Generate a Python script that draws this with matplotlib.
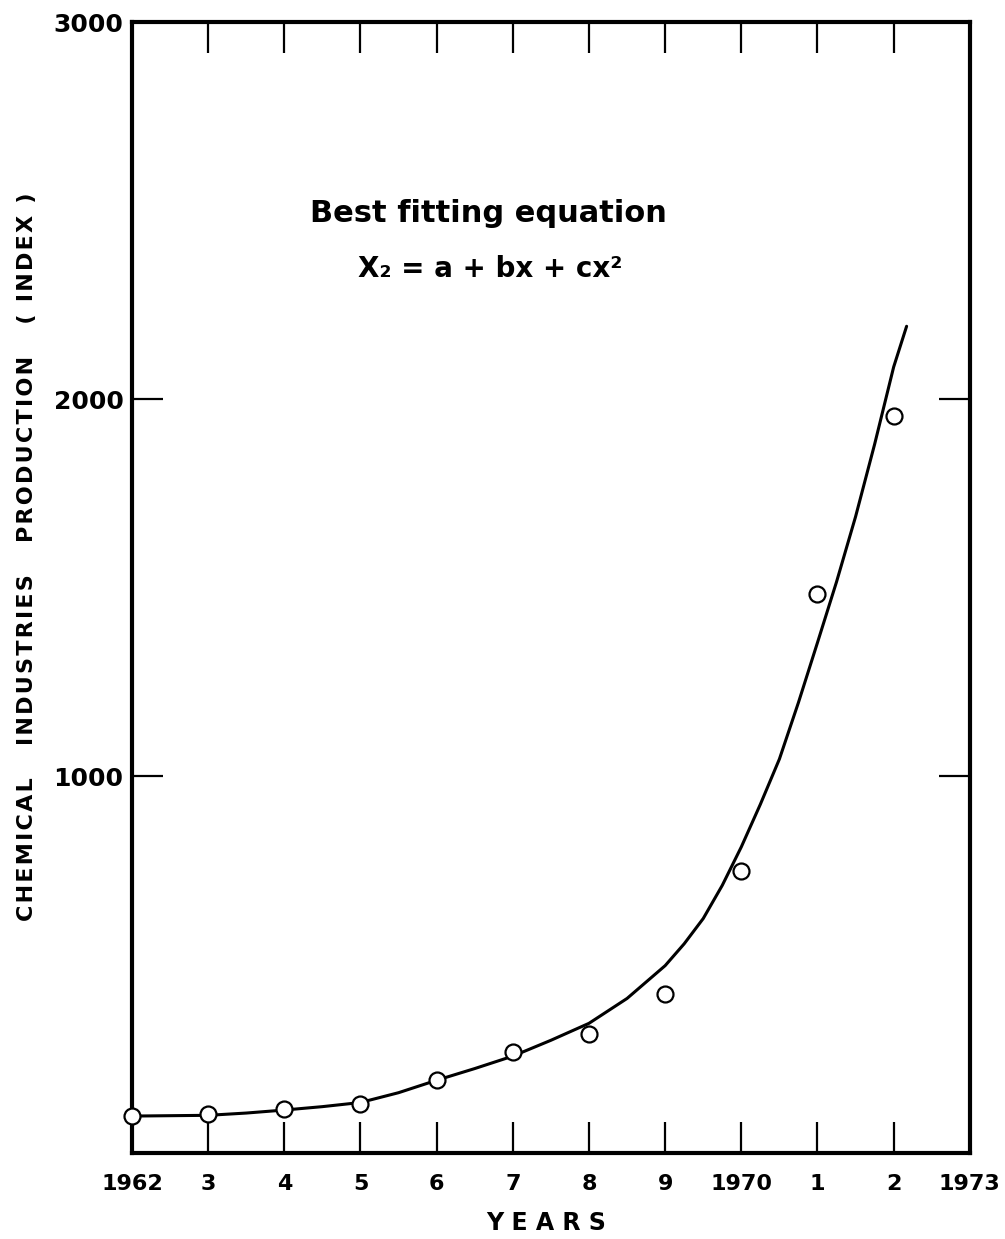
import matplotlib.pyplot as plt

# observed index values (open circles)
YEARS = [1962, 1963, 1964, 1965, 1966, 1967, 1968, 1969, 1970, 1971, 1972]
PRODUCTION = [98, 103, 116, 130, 193, 267, 317, 423, 749, 1484, 1955]

# fitted curve
CURVE_X = [1962, 1962.5, 1963, 1963.5, 1964, 1964.5, 1965, 1965.5, 1966, 1966.5,
           1967, 1967.5, 1968, 1968.5, 1969, 1969.25, 1969.5, 1969.75, 1970,
           1970.25, 1970.5, 1970.75, 1971, 1971.25, 1971.5, 1971.75, 1972, 1972.17]
CURVE_Y = [98, 99, 100, 106, 114, 123, 134, 160, 193, 224,
           257, 299, 344, 410, 497, 555, 622, 710, 812,
           925, 1045, 1195, 1354, 1515, 1688, 1880, 2085, 2193]

XTICKS = list(range(1962, 1974))
XTICK_LABELS = ['1962', '3', '4', '5', '6', '7', '8', '9', '1970', '1', '2', '1973']
YTICKS = [1000, 2000, 3000]

Y_TITLE = 'CHEMICAL   INDUSTRIES   PRODUCTION   ( INDEX )'


def spaced(text):
    # loose letter spacing as on the original drawing
    return '\u200a'.join(text)


plt.rcParams['font.family'] = ['DejaVu Sans']
plt.rcParams['font.weight'] = 'bold'

fig = plt.figure(figsize=(10.05, 12.39), dpi=100)
ax = fig.add_axes([0.1313, 0.0694, 0.8337, 0.9128])

ax.plot(CURVE_X, CURVE_Y, color='black', linewidth=2.2,
        solid_capstyle='round', solid_joinstyle='round')
ax.plot(YEARS, PRODUCTION, linestyle='none', marker='o', markersize=11.5,
        markerfacecolor='white', markeredgecolor='black', markeredgewidth=1.6,
        clip_on=False, zorder=3)

ax.set_xlim(1962, 1973)
ax.set_ylim(0, 3000)

ax.set_xticks(XTICKS)
ax.set_xticklabels(XTICK_LABELS, fontsize=16, fontweight='bold')
ax.set_yticks(YTICKS)
ax.set_yticklabels([str(v) for v in YTICKS], fontsize=18, fontweight='bold')

ax.tick_params(axis='both', direction='in', length=22, width=1.6,
               top=True, right=True)
ax.tick_params(axis='x', pad=15)
ax.tick_params(axis='y', pad=6)

for spine in ax.spines.values():
    spine.set_linewidth(3)

ax.set_xlabel('Y E A R S', fontsize=17, fontweight='bold')
ax.xaxis.set_label_coords(0.494, -0.051)
ax.set_ylabel(spaced(Y_TITLE), fontsize=16, fontweight='bold')
ax.yaxis.set_label_coords(-0.113, 0.527)

ax.text(0.425, 0.831, 'Best fitting equation', transform=ax.transAxes,
        ha='center', va='center', fontsize=22, fontweight='bold')
ax.text(0.427, 0.782, 'X\u2082 = a + bx + cx\u00b2', transform=ax.transAxes,
        ha='center', va='center', fontsize=20, fontweight='bold')

fig.savefig('out.png', dpi=100)
